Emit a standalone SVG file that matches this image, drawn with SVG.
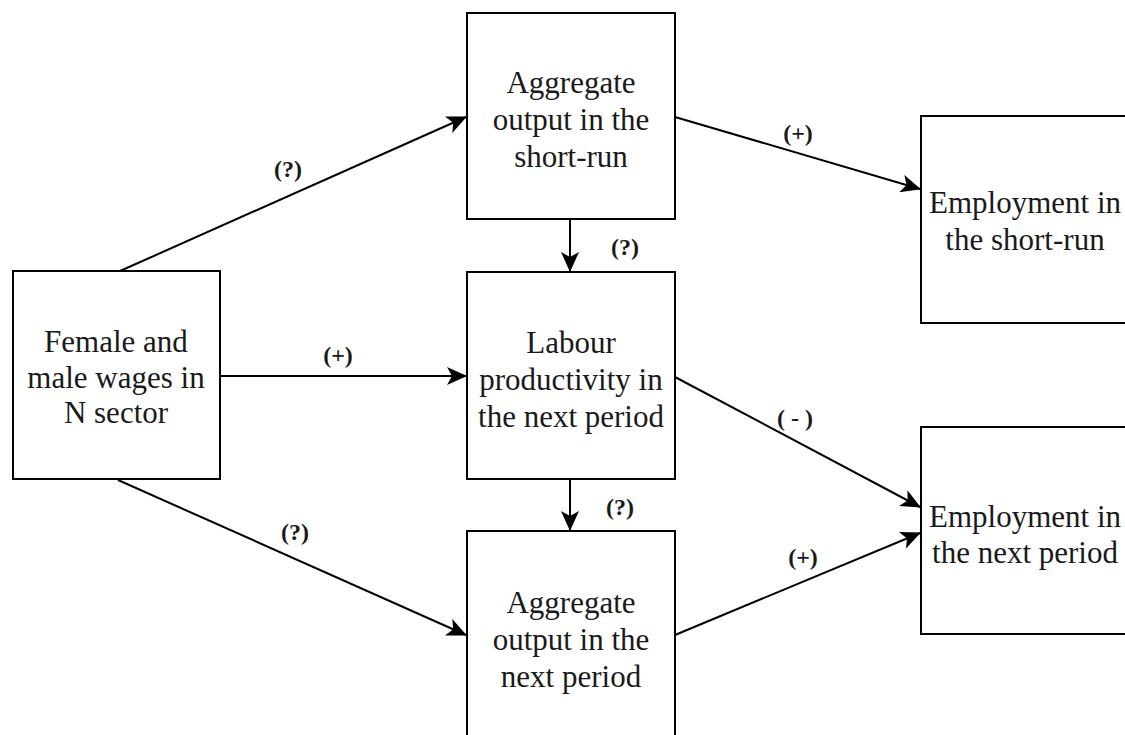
<svg xmlns="http://www.w3.org/2000/svg" width="1125" height="735" viewBox="0 0 1125 735">
<style>
.box{fill:#fff;stroke:#000;stroke-width:2}
.t{font-family:'Liberation Serif','Times New Roman',Times,'DejaVu Serif',serif;font-size:31px;fill:#1a1a1a;text-anchor:middle}
.lbl{font-family:'Liberation Serif','Times New Roman',Times,'DejaVu Serif',serif;font-size:24px;font-weight:bold;fill:#1a1a1a;text-anchor:middle}
.c{fill:none;stroke:#000;stroke-width:2;marker-end:url(#ah)}
</style>
<defs>
<marker id="ah" markerUnits="userSpaceOnUse" markerWidth="20" markerHeight="18" refX="19" refY="9" orient="auto">
<path d="M0,0 L20,9 L0,18 L5,9 z" fill="#000"/>
</marker>
</defs>
<rect width="1125" height="735" fill="#fff"/>
<g id="connectors">
<line class="c" x1="120" y1="271" x2="466" y2="117"/>
<line class="c" x1="220" y1="376" x2="466" y2="376"/>
<line class="c" x1="118" y1="480" x2="466" y2="635"/>
<line class="c" x1="675" y1="117" x2="920" y2="189"/>
<line class="c" x1="570" y1="219" x2="570" y2="271"/>
<line class="c" x1="675" y1="377" x2="920" y2="507"/>
<line class="c" x1="570" y1="479" x2="570" y2="530"/>
<line class="c" x1="675" y1="635" x2="920" y2="533"/>
<text class="lbl" x="288" y="177">(?)</text>
<text class="lbl" x="338" y="363">(+)</text>
<text class="lbl" x="295" y="540">(?)</text>
<text class="lbl" x="798" y="141">(+)</text>
<text class="lbl" x="625" y="255">(?)</text>
<text class="lbl" x="795" y="426">( - )</text>
<text class="lbl" x="620" y="515">(?)</text>
<text class="lbl" x="803" y="565">(+)</text>
</g>
<g id="female">
<rect class="box" x="13" y="271" width="207" height="208"/>
<text class="t" x="116" y="352">Female and</text>
<text class="t" x="116" y="388">male wages in</text>
<text class="t" x="116" y="423">N sector</text>
</g>
<g id="agg_short">
<rect class="box" x="467" y="13" width="208" height="206"/>
<text class="t" x="571" y="93">Aggregate</text>
<text class="t" x="571" y="130">output in the</text>
<text class="t" x="571" y="167">short-run</text>
</g>
<g id="labour">
<rect class="box" x="467" y="272" width="208" height="207"/>
<text class="t" x="571" y="353">Labour</text>
<text class="t" x="571" y="390">productivity in</text>
<text class="t" x="571" y="427">the next period</text>
</g>
<g id="agg_next">
<rect class="box" x="467" y="531" width="208" height="214"/>
<text class="t" x="571" y="613">Aggregate</text>
<text class="t" x="571" y="650">output in the</text>
<text class="t" x="571" y="687">next period</text>
</g>
<g id="emp_short">
<rect class="box" x="921" y="116" width="214" height="207"/>
<text class="t" x="1025" y="213">Employment in</text>
<text class="t" x="1025" y="250">the short-run</text>
</g>
<g id="emp_next">
<rect class="box" x="921" y="427" width="214" height="207"/>
<text class="t" x="1025" y="527">Employment in</text>
<text class="t" x="1025" y="563">the next period</text>
</g>
</svg>
